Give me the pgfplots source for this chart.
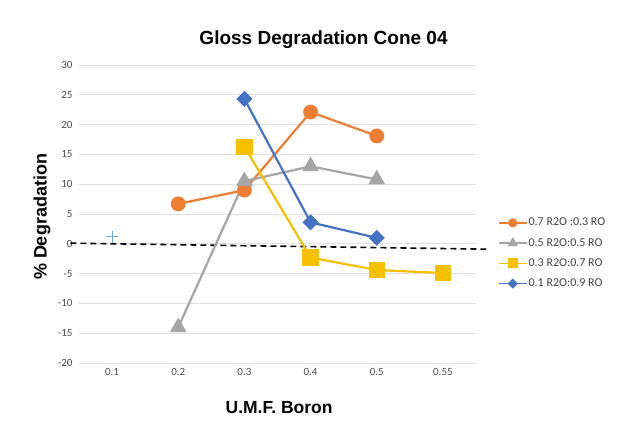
\documentclass[border=0pt]{standalone}
\usepackage{pgfplots}
\pgfplotsset{compat=1.18}
\usepackage{fontspec}
\setmainfont{Liberation Sans}
\newfontfamily\calibri{Carlito}
\definecolor{cOrange}{HTML}{ED7D31}
\definecolor{cGray}{HTML}{A5A5A5}
\definecolor{cYellow}{HTML}{F5C000}
\definecolor{cBlue}{HTML}{4472C4}
\definecolor{cLight}{HTML}{6FA8DC}
\begin{document}
\begin{tikzpicture}
\path[use as bounding box] (0,0) rectangle (624pt,434pt);
\fill[white] (0,0) rectangle (624pt,434pt);
\begin{axis}[
  at={(79pt,71pt)}, anchor=south west,
  scale only axis, width=397pt, height=298pt,
  xmin=-0.5, xmax=5.5, ymin=-20, ymax=30,
  xtick={0,1,2,3,4,5}, xticklabels={0.1,0.2,0.3,0.4,0.5,0.55},
  ytick={-20,-15,-10,-5,0,5,10,15,20,25,30},
  axis lines*=left,
  axis line style={draw=none},
  major tick length=0pt,
  ymajorgrids, grid style={black!12, line width=0.6pt},
  ticklabel style={font=\calibri\fontsize{11}{13}\selectfont, text=black!70},
  xticklabel style={yshift=-2pt},
  yticklabel style={xshift=-3pt},
  /pgf/number format/assume math mode=true,
  clip=false,
  title={Gloss Degradation Cone 04},
  title style={font=\bfseries\fontsize{19}{22}\selectfont, at={(axis description cs:0.616,1.064)}, anchor=center},
  xlabel={U.M.F. Boron},
  xlabel style={font=\bfseries\fontsize{17.5}{20}\selectfont, at={(axis description cs:0.504,-0.148)}, anchor=center},
  ylabel={\% Degradation},
  ylabel style={font=\bfseries\fontsize{18}{20}\selectfont, at={(axis description cs:-0.093,0.49)}, anchor=center},
  legend style={at={(axis description cs:1.055,0.49)}, anchor=north west, draw=none, fill=none,
    font=\calibri\fontsize{12}{14}\selectfont, text=black!75, row sep=9pt, inner sep=0pt,
    nodes={inner sep=1pt}},
  legend cell align=left,
  legend image code/.code={\draw[mark repeat=2,mark phase=2,#1,line width=1.6pt,every mark/.append style={scale=0.6}] plot coordinates {(0pt,0pt)(14pt,0pt)(28pt,0pt)};},
]
\addplot[black, line width=1.6pt, dash pattern=on 6pt off 4pt, forget plot] coordinates {(-0.63,0.1) (5.66,-0.9)};
\addplot[cOrange, line width=2.2pt, mark=*, mark size=6.3pt, mark options={solid}] coordinates {(1,6.7) (2,9) (3,22.1) (4,18.1)};
\addlegendentry{0.7 R2O :0.3 RO}
\addplot[cGray, line width=2.2pt, mark=triangle*, mark size=7.5pt, mark options={solid}] coordinates {(1,-14) (2,10.5) (3,13) (4,10.8)};
\addlegendentry{0.5 R2O:0.5 RO}
\addplot[cYellow, line width=2.2pt, mark=square*, mark size=7pt, mark options={solid}] coordinates {(2,16.3) (3,-2.3) (4,-4.4) (5,-4.9)};
\addlegendentry{0.3 R2O:0.7 RO}
\addplot[cBlue, line width=2.2pt, mark=square*, mark size=4.6pt, mark options={solid, rotate=45}] coordinates {(2,24.3) (3,3.6) (4,1) };
\addlegendentry{0.1 R2O:0.9 RO}
\addplot[cLight, only marks, mark=+, mark size=6pt, line width=1pt, forget plot] coordinates {(0,1.2)};
\end{axis}
\end{tikzpicture}
\end{document}
